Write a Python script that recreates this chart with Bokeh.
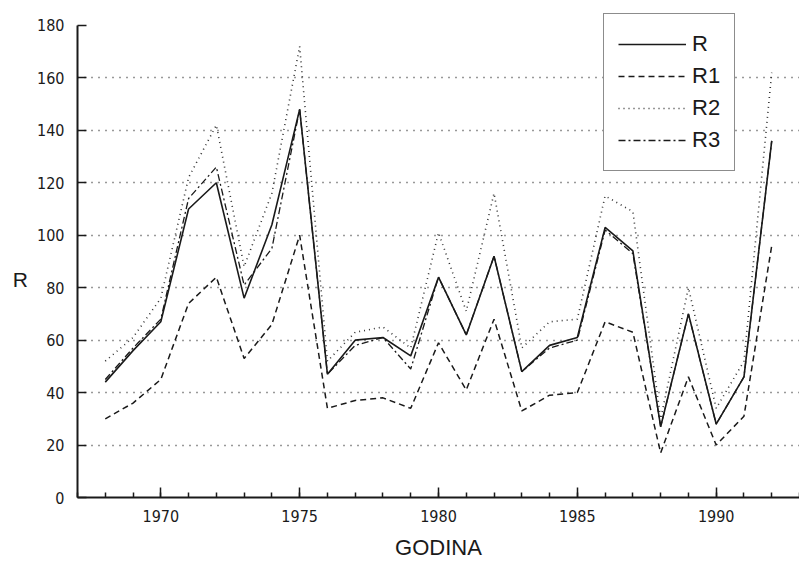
from bokeh.plotting import figure
from bokeh.models import SingleIntervalTicker, FixedTicker, Range1d, Legend, LegendItem
from bokeh.embed import file_html
from bokeh.resources import INLINE

years = list(range(1968, 1993))
R  = [44, 56, 67, 110, 120, 76, 104, 148, 47, 60, 61, 54, 84, 62, 92, 48, 58, 61, 103, 94, 27, 70, 28, 46, 136]
R1 = [30, 36, 45, 74, 84, 53, 66, 100, 34, 37, 38, 34, 59, 41, 68, 33, 39, 40, 67, 63, 17, 46, 20, 31, 96]
R2 = [52, 61, 76, 122, 142, 88, 116, 172, 52, 63, 65, 57, 101, 71, 116, 57, 67, 68, 115, 109, 30, 80, 34, 52, 162]
R3 = [45, 57, 68, 114, 126, 81, 95, 148, 47, 58, 61, 49, 84, 62, 92, 48, 57, 60, 102, 93, 27, 70, 28, 46, 136]
grid_ticks = [20, 40, 60, 80, 100, 120, 140, 160]

NARROW = "DejaVu Sans Condensed, Liberation Sans Narrow, Liberation Sans"

# frame extends above 180 so the legend box (which starts above the axis top) is not clipped
p = figure(width=799, height=562, output_backend="svg", toolbar_location=None,
           x_range=Range1d(1967, 1993), y_range=Range1d(0, 187.6),
           min_border_left=77, min_border_right=0, min_border_top=5, min_border_bottom=65)
p.outline_line_color = None
p.background_fill_color = "white"
p.border_fill_color = "white"

ink = "#1a1a1a"
lr = p.line(years, R, line_color=ink, line_width=1.6)
lr1 = p.line(years, R1, line_color=ink, line_width=1.5, line_dash="6 4")
lr2 = p.line(years, R2, line_color="#333333", line_width=1.6, line_dash="1 4")
lr3 = p.line(years, R3, line_color=ink, line_width=1.3, line_dash="7 3 2 3")

p.xgrid.visible = False
p.ygrid.ticker = FixedTicker(ticks=grid_ticks)
p.ygrid.grid_line_color = "#333333"
p.ygrid.grid_line_dash = "1 6"
p.ygrid.grid_line_width = 1.4

p.xaxis.ticker = SingleIntervalTicker(interval=5, num_minor_ticks=5)
p.yaxis.ticker = SingleIntervalTicker(interval=20, num_minor_ticks=0)
p.yaxis.bounds = (0, 180)
for ax in (p.xaxis[0], p.yaxis[0]):
    ax.axis_line_color = ink
    ax.axis_line_width = 2
    ax.major_tick_line_color = ink
    ax.major_tick_line_width = 1.5
    ax.minor_tick_line_color = ink
    ax.minor_tick_line_width = 1.5
    ax.major_tick_out = 0
    ax.minor_tick_out = 0
    ax.major_label_text_font = NARROW
    ax.major_label_text_font_size = "16px"
    ax.major_label_text_color = ink
    ax.axis_label_text_font = "Liberation Sans"
    ax.axis_label_text_font_style = "normal"
    ax.axis_label_text_color = ink

p.xaxis.major_tick_in = 10
p.xaxis.minor_tick_in = 5
p.xaxis.major_label_standoff = 12
p.xaxis.axis_label = "GODINA"
p.xaxis.axis_label_standoff = 10
p.xaxis.axis_label_text_font_size = "22px"

p.yaxis.major_tick_in = 9
p.yaxis.minor_tick_in = 0
p.yaxis.major_label_standoff = 13
p.yaxis.axis_label = "\n\nR"
p.yaxis.axis_label_orientation = "horizontal"
p.yaxis.axis_label_standoff = 6
p.yaxis.axis_label_text_font_size = "21px"

legend = Legend(items=[LegendItem(label="R", renderers=[lr]),
                       LegendItem(label="R1", renderers=[lr1]),
                       LegendItem(label="R2", renderers=[lr2]),
                       LegendItem(label="R3", renderers=[lr3])],
                location=(526, 326))
legend.border_line_color = ink
legend.border_line_width = 1.5
legend.background_fill_color = "white"
legend.background_fill_alpha = 1.0
legend.padding = 14
legend.spacing = 0
legend.margin = 0
legend.label_height = 32
legend.glyph_height = 32
legend.glyph_width = 68
legend.label_standoff = 6
legend.label_text_font = "Liberation Sans"
legend.label_text_font_size = "22px"
legend.label_text_color = ink
p.add_layout(legend, "center")

open("out.html", "w").write(file_html(p, INLINE))
